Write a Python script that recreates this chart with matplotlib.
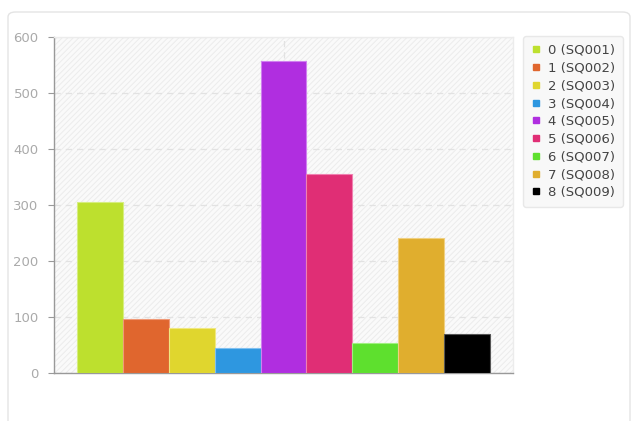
import matplotlib
matplotlib.use('Agg')
import matplotlib.pyplot as plt
from matplotlib.patches import FancyBboxPatch, Rectangle
from matplotlib.lines import Line2D

plt.rcParams['font.family'] = ['DejaVu Sans']
plt.rcParams['hatch.color'] = '#e9e9e9'
plt.rcParams['hatch.linewidth'] = 0.7

# data
labels = ['0 (SQ001)', '1 (SQ002)', '2 (SQ003)', '3 (SQ004)', '4 (SQ005)',
          '5 (SQ006)', '6 (SQ007)', '7 (SQ008)', '8 (SQ009)']
values = [305, 96, 80, 44, 557, 356, 54, 241, 70]
colors = ['#bde02e', '#e0662e', '#e0d62e', '#2e97e0', '#b02ee0',
          '#e02e75', '#5ee02e', '#e0ae2e', '#000000']
edges = ['#d6ee80', '#f09a78', '#f0e880', '#80c0f0', '#d080f0',
         '#f080b0', '#a0f080', '#f0d080', '#555555']
yticks = [0, 100, 200, 300, 400, 500, 600]

W, H = 633, 421
fig = plt.figure(figsize=(W / 100, H / 100), dpi=100)

# card behind the chart
card = FancyBboxPatch((8 / W, -0.05), 622 / W, (H - 12) / H + 0.05,
                      boxstyle='round,pad=0,rounding_size=0.012',
                      transform=fig.transFigure, facecolor='white',
                      edgecolor='#e4e4e4', linewidth=1.0, zorder=-10)
fig.patches.append(card)

ax = fig.add_axes([54 / W, 1 - 373 / H, (513 - 54) / W, (373 - 37) / H])
ax.set_zorder(1)
ax.set_facecolor('#fafafa')
ax.add_patch(Rectangle((0, 0), 1, 1, transform=ax.transAxes, facecolor='none',
                       edgecolor='#ececec', hatch='//////', linewidth=0, zorder=0))

n = len(values)
bw = 0.1
xs = [-(n * bw) / 2 + bw / 2 + i * bw for i in range(n)]
for x, v, c, e in zip(xs, values, colors, edges):
    ax.bar(x, v, width=bw, color=c, edgecolor=e, linewidth=0.8, zorder=3)

ax.set_xlim(-0.5, 0.5)
ax.set_ylim(0, 600)
ax.set_yticks(yticks)
ax.set_xticks([0])
ax.set_xticklabels([''])
ax.tick_params(axis='x', length=0)
ax.tick_params(axis='y', colors='#999999', labelcolor='#aaaaaa', labelsize=9.5,
               length=4, width=0.8, pad=7)
ax.grid(True, color='#e2e2e2', linestyle=(0, (5, 4)), linewidth=0.9, zorder=1)
ax.set_axisbelow(True)

for s in ['top', 'right']:
    ax.spines[s].set_color('#ececec')
    ax.spines[s].set_linewidth(1.0)
for s in ['left', 'bottom']:
    ax.spines[s].set_color('#999999')
    ax.spines[s].set_linewidth(1.0)

handles = [Line2D([], [], marker='s', linestyle='none', markersize=4.5,
                  markerfacecolor=c, markeredgecolor=c) for c in colors]
leg = fig.legend(handles, labels, loc='upper left',
                 bbox_to_anchor=(523 / W, 1 - 36 / H), borderaxespad=0,
                 frameon=True, fontsize=9.5, handlelength=0.8,
                 handletextpad=0.5, labelspacing=0.36, borderpad=0.6,
                 fancybox=True, shadow=False)
leg.set_zorder(5)
frame = leg.get_frame()
frame.set_facecolor('#f8f8f8')
frame.set_edgecolor('#e8e8e8')
frame.set_alpha(1.0)
for t in leg.get_texts():
    t.set_color('#444444')

fig.savefig('out.png', dpi=100)
